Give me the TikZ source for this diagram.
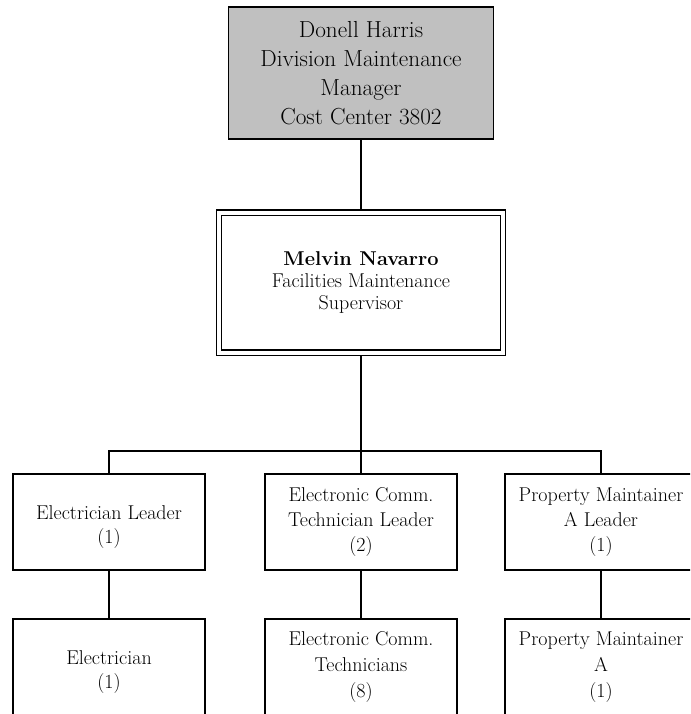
\documentclass[tikz,border=0pt]{standalone}
\usepackage{fontspec}
\definecolor{boxgray}{HTML}{C0C0C0}
\begin{document}
\begin{tikzpicture}[x=1pt,y=-1pt,
  orgbox/.style={draw=black, line width=1.5pt, fill=white, inner sep=0pt,
    minimum width=192pt, minimum height=96pt, align=center,
    font=\fontsize{20}{24}\selectfont},
  topbox/.style={draw=black, line width=1.5pt, fill=boxgray, inner sep=0pt,
    minimum width=265pt, minimum height=132pt, align=center,
    font=\fontsize{23.2}{29}\selectfont},
  supbox/.style={draw=black, line width=1.4pt, double=white, double distance=4pt,
    fill=white, inner sep=0pt, minimum width=284pt, minimum height=140pt,
    align=center, font=\fontsize{20}{22}\selectfont},
  lbl/.style={align=center},
  conn/.style={draw=black, line width=1.5pt}]
\useasboundingbox (0,0) rectangle (690,714);
\clip (0,0) rectangle (690,714);

\node[topbox] (top) at (361,72.8) {Donell Harris\\Division Maintenance\\Manager\\Cost Center 3802};
\node[supbox] (mel) at (361,282.5) {\textbf{Melvin Navarro}\\Facilities Maintenance\\Supervisor};

\node[orgbox] (el) at (109,522) {};
\node[orgbox] (ec) at (361,522) {};
\node[orgbox] (pm) at (601,522) {};
\node[orgbox] (el2) at (109,667) {};
\node[orgbox] (ec2) at (361,667) {};
\node[orgbox] (pm2) at (601,667) {};

\node[lbl, font=\fontsize{20}{24}\selectfont] (elt) at ([yshift=-5pt]el.center) {Electrician Leader\\(1)};
\node[lbl, font=\fontsize{20}{25}\selectfont] (ect) at (ec.center) {Electronic Comm.\\Technician Leader\\(2)};
\node[lbl, font=\fontsize{20}{25}\selectfont] (pmt) at (pm.center) {Property Maintainer\\A Leader\\(1)};
\node[lbl, font=\fontsize{20}{24}\selectfont] (el2t) at ([yshift=-5pt]el2.center) {Electrician\\(1)};
\node[lbl, font=\fontsize{20}{26}\selectfont] (ec2t) at (ec2.center) {Electronic Comm.\\Technicians\\(8)};
\node[lbl, font=\fontsize{20}{26}\selectfont] (pm2t) at (pm2.center) {Property Maintainer\\A\\(1)};

\coordinate (bus) at (361,451);

\draw[conn, shorten >=2.7pt] (top.south) -- (mel.north);
\draw[conn, shorten <=2.7pt] (mel.south) -- (bus);
\draw[conn] (el.north) |- (bus) -| (pm.north);
\draw[conn] (bus) -- (ec.north);
\draw[conn] (el.south) -- (el2.north);
\draw[conn] (ec.south) -- (ec2.north);
\draw[conn] (pm.south) -- (pm2.north);
\end{tikzpicture}
\end{document}
